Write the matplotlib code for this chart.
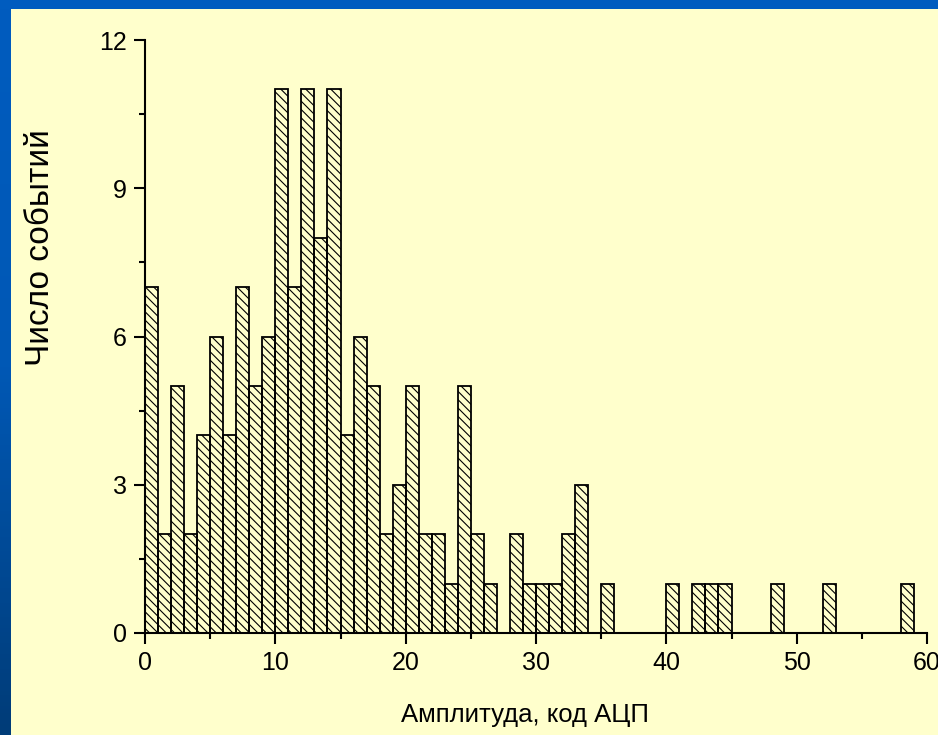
import matplotlib.pyplot as plt
import numpy as np
from matplotlib.patches import Rectangle
from matplotlib.colors import LinearSegmentedColormap

# histogram: bin left edges (width 1) and counts
bins = np.arange(0, 59)
counts = [7, 2, 5, 2, 4, 6, 4, 7, 5, 6,
          11, 7, 11, 8, 11, 4, 6, 5, 2, 3,
          5, 2, 2, 1, 5, 2, 1, 0, 2, 1,
          1, 1, 2, 3, 0, 1, 0, 0, 0, 0,
          1, 0, 1, 1, 1, 0, 0, 0, 1, 0,
          0, 0, 1, 0, 0, 0, 0, 0, 1]
xticks = [0, 10, 20, 30, 40, 50, 60]
yticks = [0, 3, 6, 9, 12]

plt.rcParams['font.family'] = ['Liberation Sans', 'DejaVu Sans']
plt.rcParams['hatch.linewidth'] = 0.8

bg = '#FFFFCC'
fig = plt.figure(figsize=(9.38, 7.35), dpi=100, facecolor=bg)

# slide frame: blue band on top, darkening blue band on the left
fig.patches.append(Rectangle((0, 1 - 9 / 735), 1, 9 / 735, transform=fig.transFigure,
                             facecolor='#005CBF', edgecolor='none', zorder=0))
band = fig.add_axes([0, 0, 10 / 938, 1])
band.imshow(np.linspace(0, 1, 200).reshape(-1, 1), aspect='auto',
            cmap=LinearSegmentedColormap.from_list('b', ['#005CBF', '#0058B5', '#003C78']))
band.axis('off')

ax = fig.add_axes([145 / 938, 102 / 735, 782 / 938, 593 / 735])
ax.set_facecolor(bg)

ax.bar(bins, counts, width=1, align='edge', color='none', edgecolor='black',
       linewidth=1.3, hatch='\\\\\\\\')

ax.set_xlim(0, 60)
ax.set_ylim(0, 12)
ax.set_xticks(xticks)
ax.set_yticks(yticks)
ax.set_xticks(np.arange(5, 60, 10), minor=True)
ax.set_yticks(np.arange(1.5, 12, 3), minor=True)
ax.tick_params(which='major', direction='out', length=8, width=1.5, labelsize=18, pad=5)
ax.tick_params(which='minor', direction='out', length=4, width=1.5)

for s in ['top', 'right']:
    ax.spines[s].set_visible(False)
for s in ['left', 'bottom']:
    ax.spines[s].set_linewidth(1.5)

ax.set_xlabel('Амплитуда, код АЦП', fontsize=18.5, va='center')
ax.xaxis.set_label_coords(0.486, -0.138)
ax.set_ylabel('Число событий', fontsize=24, va='center')
ax.yaxis.set_label_coords(-0.134, 0.65)

fig.savefig('out.png', dpi=100, facecolor=bg)
